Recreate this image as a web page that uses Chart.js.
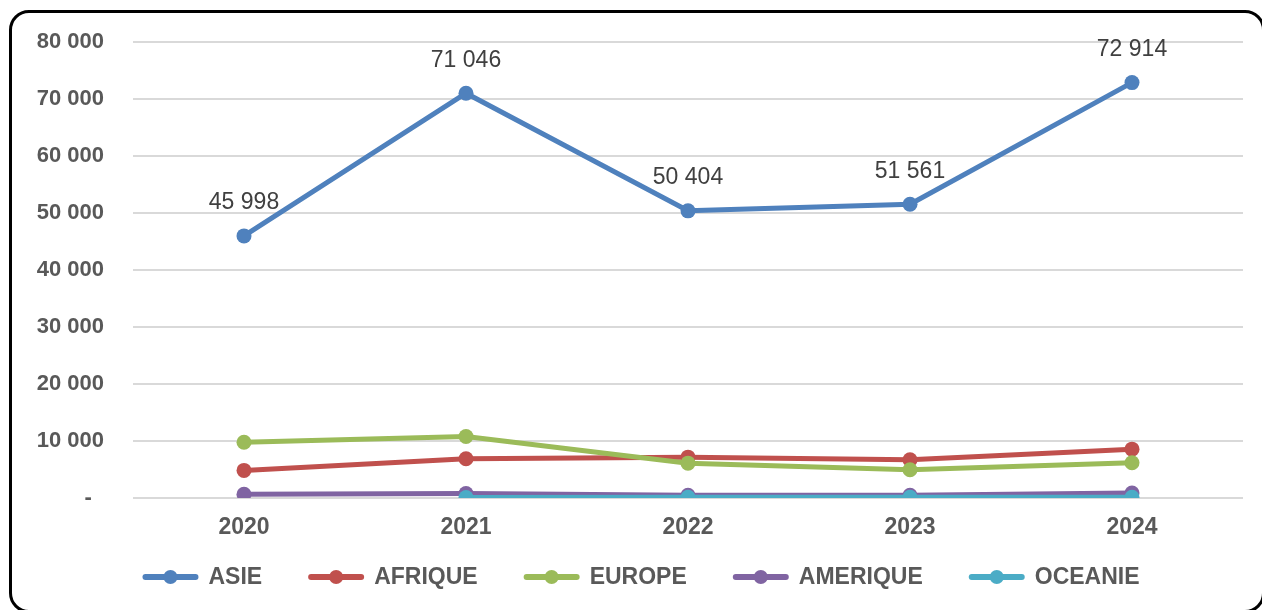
<!DOCTYPE html>
<html>
<head>
<meta charset="utf-8">
<script src="https://cdn.jsdelivr.net/npm/chart.js@4.4.1/dist/chart.umd.min.js"></script>
<style>
  html, body { margin: 0; padding: 0; background: #fff; }
  #frame {
    position: absolute; left: 9px; top: 10px; width: 1250px; height: 597px;
    border: 3px solid #000; border-radius: 20px;
  }
  #wrap { position: absolute; left: 0; top: 0; width: 1262px; height: 610px; }
</style>
</head>
<body>
<div id="frame"></div>
<div id="wrap"><canvas id="lineChart" width="1262" height="610"></canvas></div>
<script>
const years = ['2020', '2021', '2022', '2023', '2024'];
const asie = [45998, 71046, 50404, 51561, 72914];
const afrique = [4840, 6890, 7170, 6710, 8570];
const europe = [9790, 10790, 6120, 4960, 6190];
const amerique = [650, 770, 470, 470, 870];
const oceanie = [null, 100, 120, 110, 130];
const yTicks = [0, 10000, 20000, 30000, 40000, 50000, 60000, 70000, 80000];

const seriesNames = ['ASIE', 'AFRIQUE', 'EUROPE', 'AMERIQUE', 'OCEANIE'];
const seriesValues = [asie, afrique, europe, amerique, oceanie];
const colors = ['#4f81bd', '#c0504d', '#9bbb59', '#8064a2', '#4bacc6'];

function fmt(v) {
  return String(v).replace(/\B(?=(\d{3})+(?!\d))/g, ' ');
}

const dataLabels = {
  id: 'dataLabels',
  afterDatasetsDraw(chart) {
    const ctx = chart.ctx;
    const meta = chart.getDatasetMeta(0);
    ctx.save();
    ctx.font = '23px "Liberation Sans", Arial, sans-serif';
    ctx.fillStyle = '#404040';
    ctx.textAlign = 'center';
    ctx.textBaseline = 'middle';
    meta.data.forEach((pt, i) => {
      ctx.fillText(fmt(asie[i]), pt.x, pt.y - 33);
    });
    ctx.restore();
  }
};

const bottomLegend = {
  id: 'bottomLegend',
  afterDraw(chart) {
    const ctx = chart.ctx;
    const markW = 56, gapText = 10, gapItem = 46, y = 577;
    ctx.save();
    ctx.font = 'bold 23px "Liberation Sans", Arial, sans-serif';
    const widths = seriesNames.map(n => ctx.measureText(n).width);
    let total = widths.reduce((a, b) => a + b, 0) + seriesNames.length * (markW + gapText) + (seriesNames.length - 1) * gapItem;
    let x = 641 - total / 2;
    seriesNames.forEach((name, i) => {
      ctx.strokeStyle = colors[i];
      ctx.lineWidth = 6;
      ctx.lineCap = 'round';
      ctx.beginPath();
      ctx.moveTo(x + 3, y);
      ctx.lineTo(x + markW - 3, y);
      ctx.stroke();
      ctx.fillStyle = colors[i];
      ctx.beginPath();
      ctx.arc(x + markW / 2, y, 7, 0, Math.PI * 2);
      ctx.fill();
      ctx.fillStyle = '#595959';
      ctx.textBaseline = 'middle';
      ctx.fillText(name, x + markW + gapText, y + 1);
      x += markW + gapText + widths[i] + gapItem;
    });
    ctx.restore();
  }
};

const ctx = document.getElementById('lineChart').getContext('2d');
new Chart(ctx, {
  type: 'line',
  data: {
    labels: years,
    datasets: seriesNames.map((name, i) => ({
      label: name,
      data: seriesValues[i],
      borderColor: colors[i],
      backgroundColor: colors[i],
      borderWidth: 5,
      pointRadius: 7.5,
      pointHoverRadius: 7.5,
      pointBorderWidth: 0,
      tension: 0,
      order: seriesNames.length - i
    }))
  },
  options: {
    responsive: false,
    animation: false,
    devicePixelRatio: 1,
    layout: { padding: { top: 38, right: 19, bottom: 52, left: 0 } },
    plugins: {
      legend: { display: false },
      tooltip: { enabled: false }
    },
    scales: {
      x: {
        offset: true,
        grid: { display: false },
        border: { display: false },
        ticks: {
          color: '#595959',
          padding: 8,
          font: { family: '"Liberation Sans", Arial, sans-serif', size: 23, weight: 'bold' }
        },
        afterFit(scale) { scale.height = 60; }
      },
      y: {
        min: 0,
        max: 80000,
        afterBuildTicks(scale) { scale.ticks = yTicks.map(v => ({ value: v })); },
        grid: { color: '#d9d9d9', lineWidth: 2, drawTicks: false },
        border: { display: false },
        ticks: {
          color: '#595959',
          padding: 29,
          font: { family: '"Liberation Sans", Arial, sans-serif', size: 22, weight: 'bold' },
          callback: v => v === 0 ? '-  ' : fmt(v)
        },
        afterFit(scale) { scale.width = 133; }
      }
    }
  },
  plugins: [dataLabels, bottomLegend]
});
</script>
</body>
</html>
